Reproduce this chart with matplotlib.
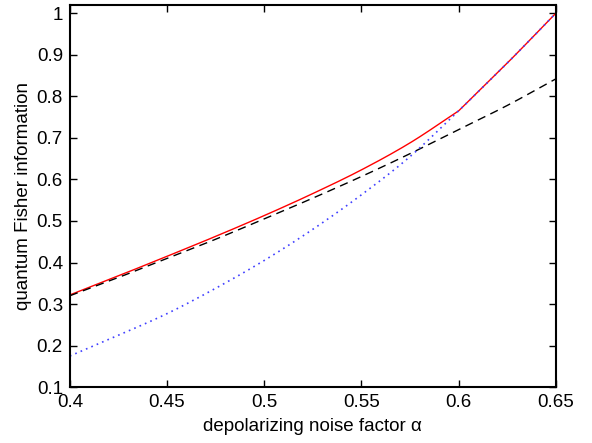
import numpy as np
import matplotlib
matplotlib.use('Agg')
import matplotlib.pyplot as plt
from matplotlib.ticker import FuncFormatter

# values
alpha = [0.4, 0.425, 0.45, 0.475, 0.5, 0.525, 0.55, 0.575, 0.6, 0.625, 0.65]
qfi_opt = [0.322, 0.368, 0.415, 0.463, 0.513, 0.566, 0.623, 0.688, 0.765, 0.88, 1.0]
qfi_dash = [0.32, 0.364, 0.41, 0.456, 0.505, 0.555, 0.607, 0.662, 0.72, 0.778, 0.842]
qfi_dot = [0.175, 0.225, 0.277, 0.338, 0.405, 0.48, 0.563, 0.655, 0.765, 0.88, 1.0]
kink = 8  # index of alpha = 0.6 where solid and dotted curves meet

xticks = [0.4, 0.45, 0.5, 0.55, 0.6, 0.65]
yticks = [0.1, 0.2, 0.3, 0.4, 0.5, 0.6, 0.7, 0.8, 0.9, 1.0]

plt.rcParams['font.family'] = ['Liberation Sans', 'DejaVu Sans']
plt.rcParams['font.size'] = 13.5


def catmull(xs, ys, n=25):
    # smooth curve through the read points (Catmull-Rom)
    xs, ys = np.asarray(xs, float), np.asarray(ys, float)
    px = np.concatenate([[2*xs[0]-xs[1]], xs, [2*xs[-1]-xs[-2]]])
    py = np.concatenate([[2*ys[0]-ys[1]], ys, [2*ys[-1]-ys[-2]]])
    ox, oy = [], []
    for i in range(1, len(px)-2):
        t = np.linspace(0, 1, n, endpoint=False)
        for arr, out in ((px, ox), (py, oy)):
            p0, p1, p2, p3 = arr[i-1:i+3]
            out.extend(0.5*((2*p1) + (-p0+p2)*t + (2*p0-5*p1+4*p2-p3)*t**2
                            + (-p0+3*p1-3*p2+p3)*t**3))
    ox.append(xs[-1]); oy.append(ys[-1])
    return np.array(ox), np.array(oy)


def kinked(xs, ys, k):
    x1, y1 = catmull(xs[:k+1], ys[:k+1])
    x2, y2 = catmull(xs[k:], ys[k:])
    return np.concatenate([x1, x2]), np.concatenate([y1, y2])


fig = plt.figure(figsize=(5.92, 4.43), dpi=100)
ax = fig.add_axes([0.118, 0.126, 0.821, 0.863])

ax.plot(*kinked(alpha, qfi_opt, kink), color='red', lw=1.0)
ax.plot(*catmull(alpha, qfi_dash), color='black', lw=1.0, dashes=(6, 4))
ax.plot(*kinked(alpha, qfi_dot, kink), color='#4040ff', lw=1.2, dashes=(1, 2.5))

ax.set_xlim(0.4, 0.65)
ax.set_ylim(0.1, 1.02)
ax.set_xticks(xticks)
ax.set_yticks(yticks)
fmt = FuncFormatter(lambda v, p: '%g' % round(v, 3))
ax.xaxis.set_major_formatter(fmt)
ax.yaxis.set_major_formatter(fmt)
ax.tick_params(direction='in', top=True, right=True, length=5, width=1,
               labelsize=13.5, pad=5)
for s in ax.spines.values():
    s.set_linewidth(1.5)

ax.set_xlabel('depolarizing noise factor α', labelpad=5)
ax.set_ylabel('quantum Fisher information', labelpad=3)

plt.savefig('out.png', dpi=100)
